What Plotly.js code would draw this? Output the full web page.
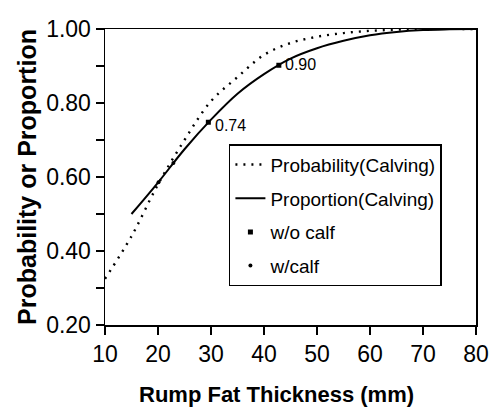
<!DOCTYPE html>
<html>
<head>
<meta charset="utf-8">
<script src="https://cdn.plot.ly/plotly-3.0.1.min.js"></script>
<style>html,body{margin:0;padding:0;background:#fff;}#chart{width:491px;height:415px;}</style>
</head>
<body>
<div id="chart"></div>
<script>
// Probability(Calving) curve (dotted)
const probX = [10, 15, 20, 25, 30, 35, 40, 45, 50, 55, 60, 65, 70, 80];
const probY = [0.325, 0.44, 0.58, 0.70, 0.805, 0.87, 0.93, 0.962, 0.979, 0.989, 0.995, 0.998, 1.0, 1.0];
// Proportion(Calving) curve (solid)
const propX = [15, 20, 25, 30, 35, 40, 45, 50, 55, 60, 65, 70, 75, 80];
const propY = [0.50, 0.585, 0.675, 0.755, 0.825, 0.878, 0.92, 0.948, 0.968, 0.983, 0.992, 0.997, 0.999, 1.0];
// Observed points
const woCalfX = [29.5, 42.8];
const woCalfY = [0.748, 0.902];
const wCalfX = [20.1, 22.9];
const wCalfY = [0.586, 0.638];
// Point labels
const labelX = [33.6, 46.9];
const labelY = [0.74, 0.904];
const labelText = ['0.74', '0.90'];

const FONT = '"Liberation Sans", Arial, sans-serif';

const traces = [
  {x: probX, y: probY, mode: 'lines', name: 'Probability(Calving)', legendgroup: 'a',
   line: {color: '#000', width: 2.4, dash: '2px,6px', shape: 'spline', smoothing: 1}},
  {x: propX, y: propY, mode: 'lines', name: 'Proportion(Calving)', legendgroup: 'b',
   line: {color: '#000', width: 2, shape: 'spline', smoothing: 1}},
  {x: woCalfX, y: woCalfY, mode: 'markers', name: 'w/o calf', legendgroup: 'c',
   marker: {color: '#000', symbol: 'square', size: 5}},
  {x: wCalfX, y: wCalfY, mode: 'markers', name: 'w/calf', legendgroup: 'd',
   marker: {color: '#000', symbol: 'circle', size: 4}}
];

const annotations = labelText.map((t, i) => ({
  x: labelX[i], y: labelY[i], text: t, showarrow: false,
  font: {family: FONT, size: 16, color: '#000'}
}));
annotations.push({
  xref: 'paper', yref: 'paper', x: 0.461, y: -0.235, xanchor: 'center', yanchor: 'middle',
  text: '<b>Rump Fat Thickness (mm)</b>', showarrow: false,
  font: {family: FONT, size: 22, color: '#000'}
});

const layout = {
  width: 491, height: 415,
  margin: {l: 105, r: 15, t: 29, b: 90},
  paper_bgcolor: '#fff', plot_bgcolor: '#fff',
  font: {family: FONT, color: '#000'},
  showlegend: true,
  legend: {
    x: 0.334, y: 0.611, xanchor: 'left', yanchor: 'top',
    bgcolor: '#fff', bordercolor: '#000', borderwidth: 1.5,
    font: {family: FONT, size: 19, color: '#000'}, tracegroupgap: 6
  },
  xaxis: {
    range: [10, 80], dtick: 10, tick0: 10,
    showline: true, linecolor: '#000', linewidth: 1.5, mirror: true,
    ticks: 'outside', ticklen: 8, tickwidth: 1.5, tickcolor: '#000',
    showgrid: false, zeroline: false,
    tickfont: {family: FONT, size: 23, color: '#000'}
  },
  yaxis: {
    range: [0.2, 1.0], dtick: 0.2, tick0: 0.2, tickformat: '.2f',
    showline: true, linecolor: '#000', linewidth: 1.5, mirror: true,
    ticks: 'outside', ticklen: 8, tickwidth: 1.5, tickcolor: '#000',
    minor: {dtick: 0.1, ticks: 'outside', ticklen: 8, tickwidth: 1.5, tickcolor: '#000', showgrid: false},
    showgrid: false, zeroline: false,
    tickfont: {family: FONT, size: 23, color: '#000'},
    title: {text: '<b>Probability or Proportion</b>', font: {family: FONT, size: 25, color: '#000'}, standoff: 2}
  },
  annotations: annotations
};

Plotly.newPlot('chart', traces, layout, {displayModeBar: false, staticPlot: true});
</script>
</body>
</html>
